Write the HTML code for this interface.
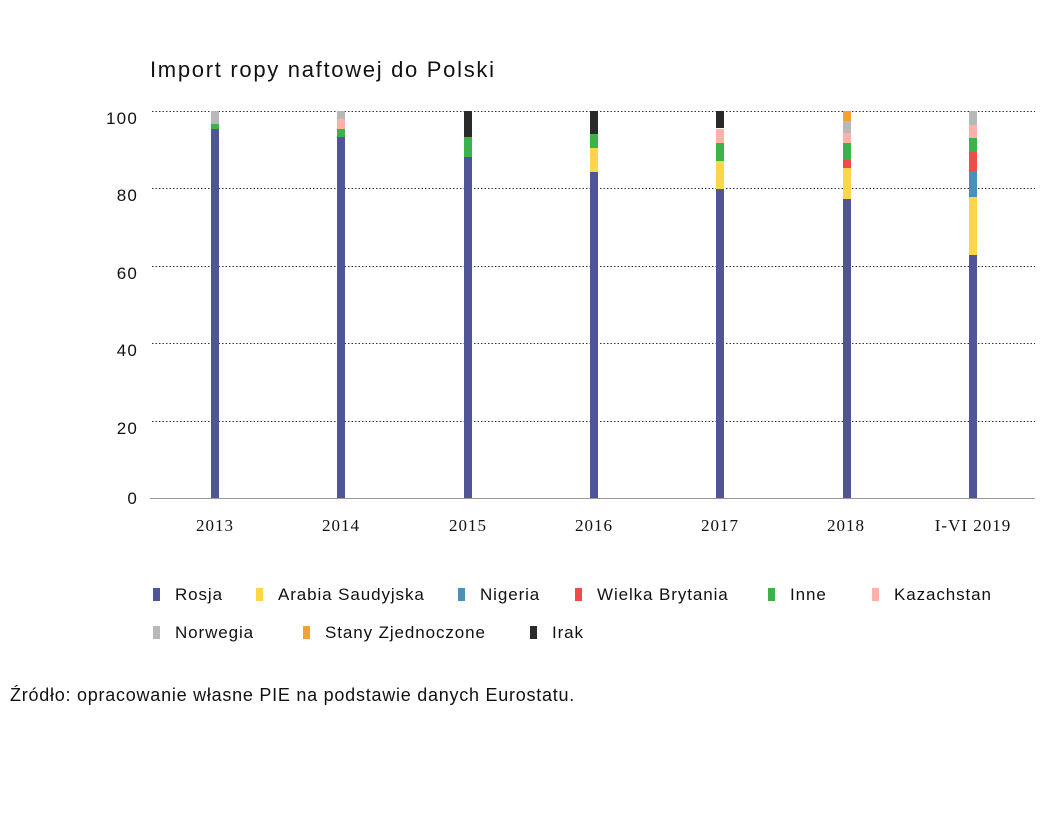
<!DOCTYPE html>
<html><head><meta charset="utf-8"><style>
body{margin:0;background:#fff;width:1044px;height:821px;position:relative;overflow:hidden;font-family:"Liberation Sans",sans-serif;color:#111}
.a{position:absolute;white-space:nowrap}
.yl{position:absolute;right:906px;font-size:17px;line-height:16px;letter-spacing:1.2px}
.xl{position:absolute;font-size:17px;transform:translateX(-50%);top:516px;font-family:"Liberation Serif",serif;letter-spacing:1px;white-space:nowrap}
.lg{position:absolute;font-size:17px;line-height:20px;letter-spacing:0.9px;white-space:nowrap}
.mk{position:absolute;width:7px;height:13px}
</style></head><body>
<div class="a" style="left:150px;top:57px;font-size:22px;letter-spacing:1.7px">Import ropy naftowej do Polski</div>
<svg class="a" style="left:0;top:0" width="1044" height="821">
<g stroke="#333" stroke-width="1" stroke-dasharray="1.5,2">
<line x1="152" x2="1035" y1="111.5" y2="111.5"/>
<line x1="152" x2="1035" y1="188.5" y2="188.5"/>
<line x1="152" x2="1035" y1="266.5" y2="266.5"/>
<line x1="152" x2="1035" y1="343.5" y2="343.5"/>
<line x1="152" x2="1035" y1="421.5" y2="421.5"/>
</g>
<line x1="150" x2="1035" y1="498.5" y2="498.5" stroke="#999"/>
<g>
<rect x="211" y="129" width="8" height="369" fill="#4f5596"/>
<rect x="211" y="124" width="8" height="5" fill="#3cb34a"/>
<rect x="211" y="111" width="8" height="13" fill="#b8b8b8"/>
<rect x="337" y="137" width="8" height="361" fill="#4f5596"/>
<rect x="337" y="129" width="8" height="8" fill="#3cb34a"/>
<rect x="337" y="119" width="8" height="10" fill="#ffb0a8"/>
<rect x="337" y="111" width="8" height="8" fill="#b8b8b8"/>
<rect x="464" y="157" width="8" height="341" fill="#4f5596"/>
<rect x="464" y="137" width="8" height="20" fill="#3cb34a"/>
<rect x="464" y="111" width="8" height="26" fill="#2a2a2a"/>
<rect x="590" y="172" width="8" height="326" fill="#4f5596"/>
<rect x="590" y="148" width="8" height="24" fill="#ffd54a"/>
<rect x="590" y="134" width="8" height="14" fill="#3cb34a"/>
<rect x="590" y="111" width="8" height="23" fill="#2a2a2a"/>
<rect x="716" y="189" width="8" height="309" fill="#4f5596"/>
<rect x="716" y="161" width="8" height="28" fill="#ffd54a"/>
<rect x="716" y="143" width="8" height="18" fill="#3cb34a"/>
<rect x="716" y="129" width="8" height="14" fill="#ffb0a8"/>
<rect x="716" y="111" width="8" height="17" fill="#2a2a2a"/>
<rect x="843" y="199" width="8" height="299" fill="#4f5596"/>
<rect x="843" y="168" width="8" height="31" fill="#ffd54a"/>
<rect x="843" y="160" width="8" height="8" fill="#f04a4a"/>
<rect x="843" y="143" width="8" height="17" fill="#3cb34a"/>
<rect x="843" y="133" width="8" height="10" fill="#ffb0a8"/>
<rect x="843" y="121" width="8" height="12" fill="#b8b8b8"/>
<rect x="843" y="111" width="8" height="10" fill="#f5a030"/>
<rect x="969" y="255" width="8" height="243" fill="#4f5596"/>
<rect x="969" y="197" width="8" height="58" fill="#ffd54a"/>
<rect x="969" y="171" width="8" height="26" fill="#4a90b8"/>
<rect x="969" y="152" width="8" height="19" fill="#f04a4a"/>
<rect x="969" y="138" width="8" height="14" fill="#3cb34a"/>
<rect x="969" y="125" width="8" height="13" fill="#ffb0a8"/>
<rect x="969" y="111" width="8" height="14" fill="#b8b8b8"/>
</g>
</svg>
<div class="yl" style="top:111px">100</div>
<div class="yl" style="top:188px">80</div>
<div class="yl" style="top:266px">60</div>
<div class="yl" style="top:343px">40</div>
<div class="yl" style="top:421px">20</div>
<div class="yl" style="top:491px">0</div>
<div class="xl" style="left:215px">2013</div>
<div class="xl" style="left:341px">2014</div>
<div class="xl" style="left:468px">2015</div>
<div class="xl" style="left:594px">2016</div>
<div class="xl" style="left:720px">2017</div>
<div class="xl" style="left:846px">2018</div>
<div class="xl" style="left:973px">I-VI 2019</div>

<div class="mk" style="left:153px;top:588px;background:#4f5596"></div><div class="lg" style="left:175px;top:585px">Rosja</div>
<div class="mk" style="left:256px;top:588px;background:#ffd54a"></div><div class="lg" style="left:278px;top:585px">Arabia Saudyjska</div>
<div class="mk" style="left:458px;top:588px;background:#4a90b8"></div><div class="lg" style="left:480px;top:585px">Nigeria</div>
<div class="mk" style="left:575px;top:588px;background:#f04a4a"></div><div class="lg" style="left:597px;top:585px">Wielka Brytania</div>
<div class="mk" style="left:768px;top:588px;background:#3cb34a"></div><div class="lg" style="left:790px;top:585px">Inne</div>
<div class="mk" style="left:872px;top:588px;background:#ffb0a8"></div><div class="lg" style="left:894px;top:585px">Kazachstan</div>
<div class="mk" style="left:153px;top:626px;background:#b8b8b8"></div><div class="lg" style="left:175px;top:623px">Norwegia</div>
<div class="mk" style="left:303px;top:626px;background:#f5a030"></div><div class="lg" style="left:325px;top:623px">Stany Zjednoczone</div>
<div class="mk" style="left:530px;top:626px;background:#2a2a2a"></div><div class="lg" style="left:552px;top:623px">Irak</div>

<div class="a" style="left:10px;top:685px;font-size:18px;letter-spacing:0.75px">Źródło: opracowanie własne PIE na podstawie danych Eurostatu.</div>
</body></html>
